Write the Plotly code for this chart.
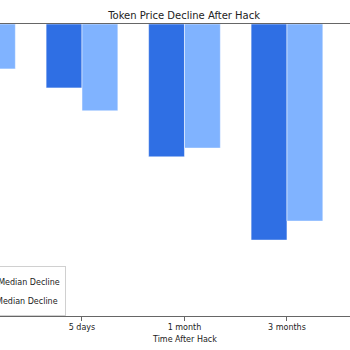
import plotly.graph_objects as go

# Data (percent change in token price after a hack)
periods = ["1 day", "5 days", "1 month", "3 months"]
hacked_median = [-15.0, -17.5, -36.4, -59.2]
market_median = [-12.3, -23.8, -34.0, -54.0]
series_names = ["Hacked Median Decline", "Market Median Decline"]

dark_blue = "#2f6fe4"
light_blue = "#80b3ff"
positions = list(range(len(periods)))

fig = go.Figure()
fig.add_trace(go.Bar(x=positions, y=hacked_median, name=series_names[0],
                     marker=dict(color=dark_blue, line=dict(color="white", width=0.5))))
fig.add_trace(go.Bar(x=positions, y=market_median, name=series_names[1],
                     marker=dict(color=light_blue, line=dict(color="white", width=0.5))))

fig.update_layout(
    width=350, height=350,
    margin=dict(l=0, r=0, t=24, b=34, autoexpand=False),
    paper_bgcolor="white", plot_bgcolor="white",
    font=dict(family="DejaVu Sans", size=8, color="#222"),
    barmode="group", bargap=0.3, bargroupgap=0,
    title=dict(text="Token Price Decline After Hack", x=0.526, xanchor="center",
               y=1 - 15 / 350, yanchor="middle", font=dict(size=10, color="#222")),
    showlegend=True,
    legend=dict(x=66 / 350, xanchor="right", y=-0.001, yanchor="bottom",
                bgcolor="rgba(255,255,255,0.8)", bordercolor="#d0d0d0", borderwidth=1,
                font=dict(size=8, color="#222"), tracegroupgap=0),
    xaxis=dict(range=[0.2, 3.615], tickmode="array", tickvals=positions, ticktext=periods,
               showline=True, linecolor="#666", linewidth=1, mirror=True,
               ticks="outside", ticklen=3.5, tickwidth=1, tickcolor="#666",
               showgrid=False, zeroline=False, tickfont=dict(size=8, color="#222")),
    yaxis=dict(range=[-80, 0], showticklabels=False, showgrid=False,
               zeroline=False, showline=False, ticks=""),
    annotations=[dict(text="Time After Hack", xref="paper", yref="paper",
                      x=184 / 350, y=(316 - 339) / 292, xanchor="center", yanchor="middle",
                      showarrow=False, font=dict(size=8, color="#222"))],
)

fig.write_html("out.html")
